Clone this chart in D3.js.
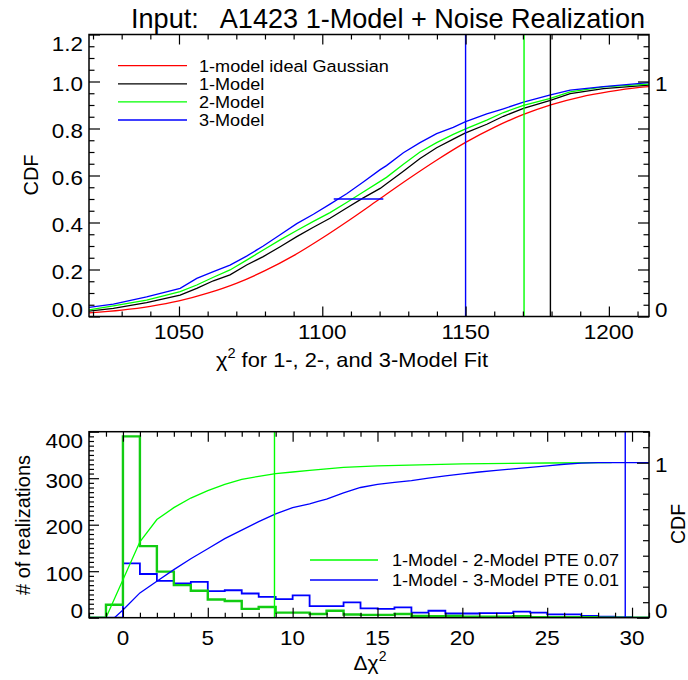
<!DOCTYPE html>
<html><head><meta charset="utf-8">
<script src="https://cdn.jsdelivr.net/npm/d3@7"></script>
<style>
body{margin:0;background:#fff;}
svg text{font-family:"Liberation Sans",Arial,Helvetica,sans-serif;fill:#000;}
</style></head>
<body><svg id="c" width="688" height="680"></svg>
<script>
// ---------- DATA (top panel) ----------
const chiX = [1018.6,1027.1,1038.7,1050.4,1056.2,1062.0,1067.8,1073.6,1079.4,1085.3,1091.1,1096.9,1102.7,1108.5,1114.3,1120.2,1122.4,1128.3,1134.1,1139.9,1145.7,1149.8,1157.4,1163.2,1170.2,1179.3,1186.5,1198.1,1214.0];
const cdfModel1 = [0.023,0.035,0.059,0.091,0.120,0.152,0.177,0.219,0.255,0.297,0.340,0.380,0.418,0.462,0.505,0.545,0.565,0.618,0.672,0.718,0.755,0.780,0.818,0.852,0.886,0.919,0.948,0.970,0.985];
const cdfModel2 = [0.028,0.045,0.070,0.106,0.134,0.167,0.198,0.240,0.283,0.326,0.366,0.405,0.442,0.485,0.530,0.575,0.592,0.648,0.700,0.740,0.775,0.797,0.836,0.868,0.898,0.927,0.956,0.977,0.989];
const cdfModel3 = [0.039,0.053,0.084,0.120,0.162,0.191,0.219,0.257,0.300,0.348,0.395,0.435,0.478,0.522,0.572,0.625,0.642,0.697,0.740,0.778,0.805,0.828,0.862,0.884,0.912,0.942,0.963,0.978,0.995];
const gaussX = [1018.6,1030,1040,1050,1060,1070,1080,1090,1100,1110,1120,1130,1140,1150,1160,1170,1180,1190,1200,1210,1214];
const gaussCdf = [0.015,0.027,0.043,0.066,0.099,0.141,0.195,0.259,0.334,0.415,0.500,0.585,0.666,0.741,0.805,0.859,0.902,0.934,0.957,0.974,0.978];
const medianSegX = [1104.0, 1121.3];
const medianSegY = [0.5, 0.5];
const vLines = [1150.0, 1170.4, 1179.6];          // 3-model, 2-model, 1-model
const topLegend = ["1-model ideal Gaussian","1-Model","2-Model","3-Model"];
const topXTicks = [1050,1100,1150,1200];
const topYTicks = [0,0.2,0.4,0.6,0.8,1.0,1.2];
const topYLabels = ["0.0","0.2","0.4","0.6","0.8","1.0","1.2"];

// ---------- DATA (bottom panel) ----------
const binLeft = [-2,-1,0,1,2,3,4,5,6,7,8,9,10,11,12,13,14,15,16,17,18,19,20,21,22,23,24,25,26,27,28,29,30];
const hist12 = [0,28,390,154,99,70,58,39,36,19,23,11,11,8,15,7,6,6,8,4,3,4,2,2,2,3,1,1,1,1,0,0,0];
const hist13 = [0,0,117,94,79,74,77,57,59,52,45,40,48,25,25,33,20,19,22,11,15,9,9,10,10,13,11,7,7,4,2,1,0];
const cdf12X = [-1,1,2,3,4,5,6,7,8,9,10,11,12,13,14,15,20,25,28.8];
const cdf12 = [0,0.49,0.633,0.71,0.772,0.82,0.86,0.892,0.912,0.929,0.94,0.95,0.96,0.97,0.975,0.98,0.993,0.998,1.0];
const cdf13X = [-0.5,0,1,2,3,4,5,6,7,8,9,10,11,11.5,12,13,14,15,16,17,18,19,20,21,22,23,24,25,26,27,28,31];
const cdf13 = [0,0.05,0.16,0.235,0.31,0.38,0.445,0.51,0.565,0.62,0.67,0.71,0.735,0.75,0.765,0.805,0.84,0.86,0.873,0.885,0.9,0.915,0.928,0.94,0.95,0.96,0.97,0.98,0.99,0.997,1.0,1.0];
const bottomVLines = [8.93, 29.6];
const bottomLegend = ["1-Model - 2-Model PTE 0.07","1-Model - 3-Model PTE 0.01"];
const botXTicks = [0,5,10,15,20,25,30];
const botYTicks = [0,100,200,300,400];

// ---------- LAYOUT ----------
const svg = d3.select("#c");
const T = {l:89, r:649, t:34.5, b:316.5};
const B = {l:89, r:649, t:431.7, b:617.7};
const RED="#ff0000", GRN="#00ff00", GRNH="#12cc12", BLU="#0000ff", BLK="#000000";

const x1 = d3.scaleLinear().domain([1018.6,1214]).range([T.l,T.r]);
const y1 = d3.scaleLinear().domain([0,1.2]).range([T.b,T.t]);
const x2 = d3.scaleLinear().domain([-2,31]).range([B.l,B.r]);
const y2 = d3.scaleLinear().domain([0,400]).range([B.b,B.t]);
const y2r = d3.scaleLinear().domain([0,1.2]).range([B.b,B.t]);

function stretch(sel,k){
  sel.each(function(){const w=this.getComputedTextLength();
    this.setAttribute("textLength",(w*k).toFixed(1));
    this.setAttribute("lengthAdjust","spacingAndGlyphs");});
}
function range(a,b,s){const o=[];for(let v=a;v<=b+1e-9;v+=s)o.push(+v.toFixed(4));return o;}

function tickAxis(gen, scale, vals, len, transform){
  const g = svg.append("g").attr("transform",transform)
    .call(gen(scale).tickValues(vals).tickSize(-len).tickFormat(""));
  g.select(".domain").remove();
  g.selectAll("line").attr("stroke",BLK).attr("stroke-width",1.2);
  return g;
}
function labelClamp(v, top, bot){ return Math.min(Math.max(v+2, top+8.5), bot-7); }

// ---------- TOP PANEL ----------
svg.append("clipPath").attr("id","clipT").append("rect")
  .attr("x",T.l).attr("y",T.t).attr("width",T.r-T.l).attr("height",T.b-T.t);
const gT = svg.append("g").attr("clip-path","url(#clipT)");
const ln = (xs,ys,xsc,ysc,curve)=>d3.line().x((d,i)=>xsc(xs[i])).y((d,i)=>ysc(ys[i])).curve(curve||d3.curveLinear)(xs);

gT.append("path").attr("d",ln(gaussX,gaussCdf,x1,y1,d3.curveMonotoneX)).attr("fill","none").attr("stroke",RED).attr("stroke-width",1.3);
gT.append("path").attr("d",ln(chiX,cdfModel1,x1,y1)).attr("fill","none").attr("stroke",BLK).attr("stroke-width",1.3);
gT.append("path").attr("d",ln(chiX,cdfModel2,x1,y1)).attr("fill","none").attr("stroke",GRN).attr("stroke-width",1.3);
gT.append("path").attr("d",ln(chiX,cdfModel3,x1,y1)).attr("fill","none").attr("stroke",BLU).attr("stroke-width",1.3);
gT.append("path").attr("d",ln(medianSegX,medianSegY,x1,y1)).attr("fill","none").attr("stroke",BLU).attr("stroke-width",1.6);
const vCols=[BLU,GRN,BLK];
vLines.forEach((v,i)=>{
  svg.append("line").attr("x1",x1(v)).attr("x2",x1(v)).attr("y1",T.t).attr("y2",T.b)
    .attr("stroke",vCols[i]).attr("stroke-width",1.4);
});

tickAxis(d3.axisBottom,x1,range(1020,1210,10).filter(v=>v%50),5,`translate(0,${T.b})`);
tickAxis(d3.axisBottom,x1,topXTicks,10,`translate(0,${T.b})`);
tickAxis(d3.axisTop,x1,range(1020,1210,10).filter(v=>v%50),5,`translate(0,${T.t})`);
tickAxis(d3.axisTop,x1,topXTicks,10,`translate(0,${T.t})`);
tickAxis(d3.axisLeft,y1,range(0,1.2,0.05).filter((v,i)=>i%4),5.5,`translate(${T.l},0)`);
tickAxis(d3.axisLeft,y1,topYTicks,11,`translate(${T.l},0)`);
tickAxis(d3.axisRight,y1,range(0,1.2,0.05).filter((v,i)=>i%4),5.5,`translate(${T.r},0)`);
tickAxis(d3.axisRight,y1,topYTicks,11,`translate(${T.r},0)`);
svg.append("rect").attr("x",T.l).attr("y",T.t).attr("width",T.r-T.l).attr("height",T.b-T.t)
  .attr("fill","none").attr("stroke",BLK).attr("stroke-width",1.5);

topXTicks.forEach(v=>{
  svg.append("text").attr("class","tl").attr("x",x1(v)).attr("y",338.5).attr("text-anchor","middle").text(v);
});
topYTicks.forEach((v,i)=>{
  svg.append("text").attr("class","tl").attr("x",83).attr("y",labelClamp(y1(v),T.t,T.b)).attr("dy","0.36em")
    .attr("text-anchor","end").text(topYLabels[i]);
});
[[0,"0"],[1,"1"]].forEach(([v,s])=>{
  svg.append("text").attr("class","tl").attr("x",655).attr("y",labelClamp(y1(v),T.t,T.b)).attr("dy","0.36em").text(s);
});

const legCols=[RED,BLK,GRN,BLU];
topLegend.forEach((s,i)=>{
  const yy = 65.7 + i*18.1;
  svg.append("line").attr("x1",118).attr("x2",187).attr("y1",yy).attr("y2",yy).attr("stroke",legCols[i]).attr("stroke-width",1.3);
  svg.append("text").attr("class","lg").attr("x",199).attr("y",yy).attr("dy","0.36em").text(s);
});

// ---------- BOTTOM PANEL ----------
svg.append("clipPath").attr("id","clipB").append("rect")
  .attr("x",B.l).attr("y",B.t-1).attr("width",B.r-B.l).attr("height",B.b-B.t+1);
const gB = svg.append("g").attr("clip-path","url(#clipB)");
function stepPath(vals){
  const p=d3.path();
  binLeft.forEach((b,i)=>{
    const yy=y2(vals[i]);
    if(i===0) p.moveTo(x2(b),yy); else p.lineTo(x2(b),yy);
    p.lineTo(x2(b+1),yy);
  });
  return p.toString();
}
gB.append("path").attr("d",stepPath(hist13)).attr("fill","none").attr("stroke",BLU).attr("stroke-width",1.8);
gB.append("path").attr("d",stepPath(hist12)).attr("fill","none").attr("stroke",GRNH).attr("stroke-width",2.4);
gB.append("path").attr("d",ln(cdf12X,cdf12,x2,y2r)).attr("fill","none").attr("stroke",GRN).attr("stroke-width",1.3);
gB.append("path").attr("d",ln(cdf13X,cdf13,x2,y2r)).attr("fill","none").attr("stroke",BLU).attr("stroke-width",1.3);
const bCols=[GRN,BLU];
bottomVLines.forEach((v,i)=>{
  svg.append("line").attr("x1",x2(v)).attr("x2",x2(v)).attr("y1",B.t).attr("y2",B.b)
    .attr("stroke",bCols[i]).attr("stroke-width",1.4);
});

tickAxis(d3.axisBottom,x2,range(-2,31,1).filter(v=>v%5),5,`translate(0,${B.b})`);
tickAxis(d3.axisBottom,x2,botXTicks,10,`translate(0,${B.b})`);
tickAxis(d3.axisTop,x2,range(-2,31,1).filter(v=>v%5),5,`translate(0,${B.t})`);
tickAxis(d3.axisTop,x2,botXTicks,10,`translate(0,${B.t})`);
tickAxis(d3.axisLeft,y2,range(0,400,10).filter(v=>v%100),5,`translate(${B.l},0)`);
tickAxis(d3.axisLeft,y2,botYTicks,10,`translate(${B.l},0)`);
tickAxis(d3.axisRight,y2r,range(0,1.2,0.1).filter(v=>v!==0&&v!==1),6,`translate(${B.r},0)`);
tickAxis(d3.axisRight,y2r,[0,1],12,`translate(${B.r},0)`);
svg.append("rect").attr("x",B.l).attr("y",B.t).attr("width",B.r-B.l).attr("height",B.b-B.t)
  .attr("fill","none").attr("stroke",BLK).attr("stroke-width",1.5);

botXTicks.forEach(v=>{
  svg.append("text").attr("class","tl").attr("x",x2(v)).attr("y",644.5).attr("text-anchor","middle").text(v);
});
botYTicks.forEach(v=>{
  svg.append("text").attr("class","tl").attr("x",83).attr("y",labelClamp(y2(v),B.t,B.b)).attr("dy","0.36em")
    .attr("text-anchor","end").text(v);
});
[[0,"0"],[1,"1"]].forEach(([v,s])=>{
  svg.append("text").attr("class","tl").attr("x",655).attr("y",labelClamp(y2r(v),B.t,B.b)).attr("dy","0.36em").text(s);
});

bottomLegend.forEach((s,i)=>{
  const yy = 560 + i*20;
  svg.append("line").attr("x1",310).attr("x2",378).attr("y1",yy).attr("y2",yy).attr("stroke",bCols[i]).attr("stroke-width",1.3);
  svg.append("text").attr("class","lg").attr("x",392).attr("y",yy).attr("dy","0.36em").text(s);
});

// ---------- TEXT SIZES / TITLES ----------
svg.selectAll("text.tl").style("font-size","21px");
svg.selectAll("text.lg").style("font-size","16.3px");
stretch(svg.selectAll("text.tl"),1.07);
stretch(svg.selectAll("text.lg"),1.11);

const title = svg.append("text").attr("x",131).attr("y",27.5).style("font-size","28.5px")
  .attr("xml:space","preserve").style("white-space","pre").text("Input:   A1423 1-Model + Noise Realization");
title.attr("textLength",514).attr("lengthAdjust","spacingAndGlyphs");

const xt = svg.append("text").attr("x",352).attr("y",367).attr("text-anchor","middle").style("font-size","21px");
xt.append("tspan").text("\u03c7");
xt.append("tspan").attr("dy",-9).style("font-size","14px").text("2");
xt.append("tspan").attr("dy",9).text(" for 1-, 2-, and 3-Model Fit");
stretch(xt,1.04);

const dt = svg.append("text").attr("x",370).attr("y",670).attr("text-anchor","middle").style("font-size","21px");
dt.append("tspan").text("\u0394\u03c7");
dt.append("tspan").attr("dy",-9).style("font-size","14px").text("2");

svg.append("text").attr("transform","translate(38,175) rotate(-90)").attr("text-anchor","middle").style("font-size","20px").text("CDF");
svg.append("text").attr("transform","translate(30,525) rotate(-90)").attr("text-anchor","middle").style("font-size","20px").text("# of realizations");
svg.append("text").attr("transform","translate(685,524) rotate(-90)").attr("text-anchor","middle").style("font-size","19.5px").text("CDF");
</script></body></html>
